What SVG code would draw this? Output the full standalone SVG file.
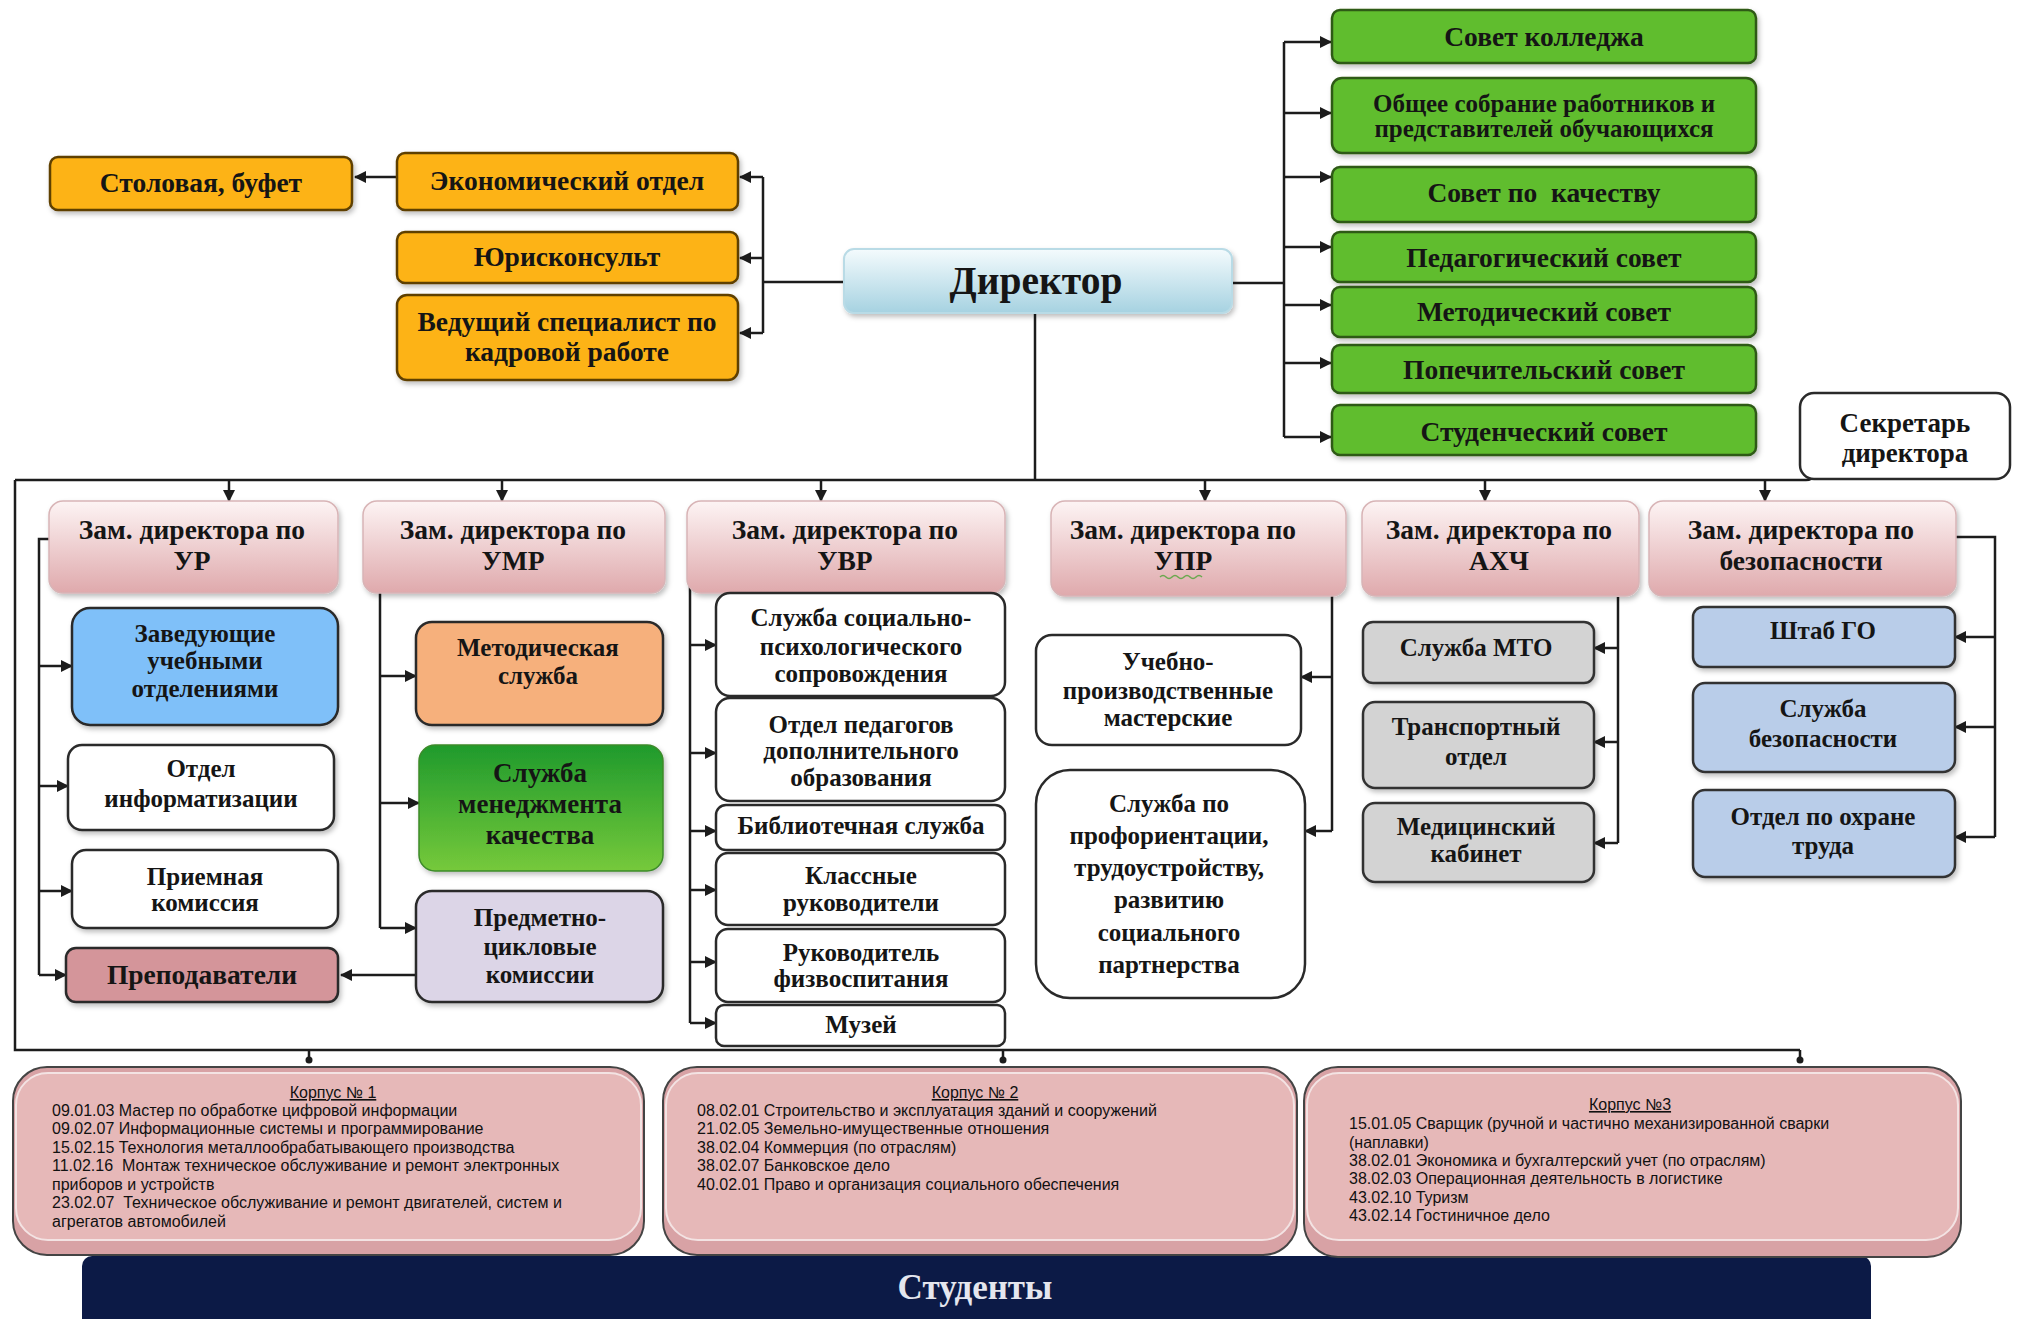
<svg xmlns="http://www.w3.org/2000/svg" width="2020" height="1319" viewBox="0 0 2020 1319">
<defs>
<style>
.t{font-family:"Liberation Serif","Times New Roman",serif;font-weight:bold;font-size:25px;text-anchor:middle;fill:#151515}
.b{font-size:27.5px}
.k{font-family:"Liberation Sans",Arial,sans-serif;font-size:16px;fill:#111}
.ku{font-family:"Liberation Sans",Arial,sans-serif;font-size:16px;fill:#111;text-anchor:middle;text-decoration:underline}
.ln{stroke:#1c1c1c;stroke-width:2.5;fill:none}
.ar{stroke:#1c1c1c;stroke-width:2.5;fill:none;marker-end:url(#ah)}
.or{fill:#fdb313;stroke:#5e3f06;stroke-width:2.5}
.gr{fill:#61bd2e;stroke:#2f5a16;stroke-width:2.5}
.zm{fill:url(#gZam);stroke:#d8b4b6;stroke-width:1.5}
.wh{fill:#ffffff;stroke:#2a2a2a;stroke-width:2.5}
.gy{fill:#d3d3d3;stroke:#333;stroke-width:2.5}
.bl{fill:#b9cde9;stroke:#333;stroke-width:2.5}
.ko{fill:#d8a2a5;stroke:#444;stroke-width:2}
.ki{fill:#e6b8b8;stroke:#f3e3e3;stroke-width:2}
</style>
<linearGradient id="gDir" x1="0" y1="0" x2="0" y2="1"><stop offset="0" stop-color="#f4fbfd"/><stop offset="1" stop-color="#a6d2e1"/></linearGradient>
<linearGradient id="gZam" x1="0" y1="0" x2="0" y2="1"><stop offset="0" stop-color="#fdf4f4"/><stop offset="1" stop-color="#dfa9ac"/></linearGradient>
<linearGradient id="gSmk" x1="0" y1="0" x2="0" y2="1"><stop offset="0" stop-color="#1f9a2c"/><stop offset="1" stop-color="#76c93b"/></linearGradient>
<filter id="sh" x="-5%" y="-10%" width="115%" height="130%"><feDropShadow dx="2" dy="3" stdDeviation="2.5" flood-color="#000" flood-opacity="0.25"/></filter>
<marker id="ah" markerWidth="12" markerHeight="12" refX="11" refY="6" orient="auto" markerUnits="userSpaceOnUse"><path d="M0,0 L12,6 L0,12 z" fill="#1c1c1c"/></marker>
</defs>
<rect width="2020" height="1319" fill="#fff"/>

<g id="connectors">
<path class="ln" d="M844,282 H763 M763,177 V333"/>
<path class="ar" d="M763,177 H740"/>
<path class="ar" d="M763,258 H740"/>
<path class="ar" d="M763,333 H740"/>
<path class="ar" d="M397,177 H355"/>
<path class="ln" d="M1232,283 H1284 M1284,42 V437"/>
<path class="ar" d="M1284,42 H1331"/>
<path class="ar" d="M1284,113 H1331"/>
<path class="ar" d="M1284,177 H1331"/>
<path class="ar" d="M1284,247 H1331"/>
<path class="ar" d="M1284,305 H1331"/>
<path class="ar" d="M1284,363 H1331"/>
<path class="ar" d="M1284,437 H1331"/>
<path class="ln" d="M1035,313 V480"/>
<path class="ln" d="M15,480 H1806 Q1812,480 1814,474"/>
<path class="ln" d="M15,480 V1050 H1800"/>
<path class="ar" d="M229,480 V501"/>
<path class="ar" d="M502,480 V501"/>
<path class="ar" d="M821,480 V501"/>
<path class="ar" d="M1205,480 V501"/>
<path class="ar" d="M1485,480 V501"/>
<path class="ar" d="M1765,480 V501"/>
<path class="ln" d="M49,539 H39 V975"/>
<path class="ar" d="M39,666 H72"/>
<path class="ar" d="M39,786 H68"/>
<path class="ar" d="M39,891 H72"/>
<path class="ar" d="M39,975 H66"/>
<path class="ln" d="M380,593 V928"/>
<path class="ar" d="M380,676 H416"/>
<path class="ar" d="M380,803 H419"/>
<path class="ar" d="M380,928 H416"/>
<path class="ar" d="M416,975 H341"/>
<path class="ln" d="M690,558 V1023"/>
<path class="ar" d="M690,645 H716"/>
<path class="ar" d="M690,753 H716"/>
<path class="ar" d="M690,831 H716"/>
<path class="ar" d="M690,890 H716"/>
<path class="ar" d="M690,962 H716"/>
<path class="ar" d="M690,1023 H716"/>
<path class="ln" d="M1332,596 V831"/>
<path class="ar" d="M1332,677 H1301"/>
<path class="ar" d="M1332,831 H1305"/>
<path class="ln" d="M1618,597 V843"/>
<path class="ar" d="M1618,648 H1594"/>
<path class="ar" d="M1618,742 H1594"/>
<path class="ar" d="M1618,843 H1594"/>
<path class="ln" d="M1955,537 H1995 V837"/>
<path class="ar" d="M1995,637 H1955"/>
<path class="ar" d="M1995,727 H1955"/>
<path class="ar" d="M1995,837 H1955"/>
<path class="ln" d="M309,1050 V1060 M1003,1050 V1060 M1800,1050 V1060"/>
<circle cx="309" cy="1060" r="3.5" fill="#1c1c1c"/>
<circle cx="1003" cy="1060" r="3.5" fill="#1c1c1c"/>
<circle cx="1800" cy="1060" r="3.5" fill="#1c1c1c"/>
<path d="M303,1244 L315,1244 L309,1256 z M977,1242 L989,1242 L983,1256 z M1593,1244 L1605,1244 L1599,1257 z" fill="#1c1c1c"/>
</g>

<g id="stolovaya"><rect class="or" x="50" y="157" width="302" height="53" rx="8" filter="url(#sh)"/><text class="t b" x="201" y="192">Столовая, буфет</text></g>
<g id="econom"><rect class="or" x="397" y="153" width="341" height="57" rx="8" filter="url(#sh)"/><text class="t b" x="567" y="190">Экономический отдел</text></g>
<g id="jurist"><rect class="or" x="397" y="232" width="341" height="51" rx="8" filter="url(#sh)"/><text class="t b" x="567" y="266">Юрисконсульт</text></g>
<g id="kadry"><rect class="or" x="397" y="295" width="341" height="85" rx="10" filter="url(#sh)"/><text class="t b" x="567" y="331">Ведущий специалист по</text><text class="t b" x="567" y="361">кадровой работе</text></g>

<g id="director"><rect x="844" y="249" width="388" height="64" rx="10" fill="url(#gDir)" stroke="#b9dbe6" stroke-width="2" filter="url(#sh)"/><text class="t" x="1036" y="294" style="font-size:39.5px">Директор</text></g>

<g id="sovet-kolledzha"><rect class="gr" x="1332" y="10" width="424" height="53" rx="8" filter="url(#sh)"/><text class="t b" x="1544" y="46">Совет колледжа</text></g>
<g id="obshee"><rect class="gr" x="1332" y="78" width="424" height="75" rx="10" filter="url(#sh)"/><text class="t" x="1544" y="112">Общее собрание работников и</text><text class="t" x="1544" y="137">представителей обучающихся</text></g>
<g id="sovet-kachestvo"><rect class="gr" x="1332" y="167" width="424" height="55" rx="8" filter="url(#sh)"/><text class="t b" x="1544" y="202" style="white-space:pre">Совет по  качеству</text></g>
<g id="pedsovet"><rect class="gr" x="1332" y="232" width="424" height="50" rx="8" filter="url(#sh)"/><text class="t b" x="1544" y="267">Педагогический совет</text></g>
<g id="metodsovet"><rect class="gr" x="1332" y="287" width="424" height="50" rx="8" filter="url(#sh)"/><text class="t b" x="1544" y="321">Методический совет</text></g>
<g id="popech"><rect class="gr" x="1332" y="345" width="424" height="48" rx="8" filter="url(#sh)"/><text class="t b" x="1544" y="379">Попечительский совет</text></g>
<g id="studsovet"><rect class="gr" x="1332" y="405" width="424" height="50" rx="8" filter="url(#sh)"/><text class="t b" x="1544" y="441">Студенческий совет</text></g>

<g id="sekretar"><rect x="1800" y="393" width="210" height="86" rx="14" fill="#fff" stroke="#2a2a2a" stroke-width="2.5"/><text class="t" x="1905" y="432" style="font-size:27px">Секретарь</text><text class="t" x="1905" y="462" style="font-size:27px">директора</text></g>

<g id="zam-ur"><rect class="zm" x="49" y="501" width="289" height="92" rx="14" filter="url(#sh)"/><text class="t b" x="192" y="539">Зам. директора по</text><text class="t b" x="192" y="570">УР</text></g>
<g id="zam-umr"><rect class="zm" x="363" y="501" width="302" height="92" rx="14" filter="url(#sh)"/><text class="t b" x="513" y="539">Зам. директора по</text><text class="t b" x="513" y="570">УМР</text></g>
<g id="zam-uvr"><rect class="zm" x="687" y="501" width="318" height="92" rx="14" filter="url(#sh)"/><text class="t b" x="845" y="539">Зам. директора по</text><text class="t b" x="845" y="570">УВР</text></g>
<g id="zam-upr"><rect class="zm" x="1051" y="501" width="295" height="95" rx="14" filter="url(#sh)"/><text class="t b" x="1183" y="539">Зам. директора по</text><text class="t b" x="1183" y="570">УПР</text><path d="M1160,577 q3,-3 6,0 t6,0 t6,0 t6,0 t6,0 t6,0 t6,0" fill="none" stroke="#6aa84f" stroke-width="1.5"/></g>
<g id="zam-ahch"><rect class="zm" x="1362" y="501" width="277" height="95" rx="14" filter="url(#sh)"/><text class="t b" x="1499" y="539">Зам. директора по</text><text class="t b" x="1499" y="570">АХЧ</text></g>
<g id="zam-bez"><rect class="zm" x="1649" y="501" width="307" height="95" rx="14" filter="url(#sh)"/><text class="t b" x="1801" y="539">Зам. директора по</text><text class="t b" x="1801" y="570">безопасности</text></g>

<g id="zaveduyushie"><rect x="72" y="608" width="266" height="117" rx="18" fill="#7fc0f9" stroke="#2a2a2a" stroke-width="2.5" filter="url(#sh)"/><text class="t" x="205" y="642">Заведующие</text><text class="t" x="205" y="669">учебными</text><text class="t" x="205" y="697">отделениями</text></g>
<g id="inform"><rect class="wh" x="68" y="745" width="266" height="85" rx="14" filter="url(#sh)"/><text class="t" x="201" y="777">Отдел</text><text class="t" x="201" y="807">информатизации</text></g>
<g id="priem"><rect class="wh" x="72" y="850" width="266" height="78" rx="14" filter="url(#sh)"/><text class="t" x="205" y="885">Приемная</text><text class="t" x="205" y="911">комиссия</text></g>
<g id="prepod"><rect x="66" y="948" width="272" height="54" rx="10" fill="#d4959a" stroke="#2a2a2a" stroke-width="2.5" filter="url(#sh)"/><text class="t b" x="202" y="984">Преподаватели</text></g>

<g id="metod-sluzhba"><rect x="416" y="622" width="247" height="103" rx="16" fill="#f6b07b" stroke="#2a2a2a" stroke-width="2.5" filter="url(#sh)"/><text class="t" x="538" y="656">Методическая</text><text class="t" x="538" y="684">служба</text></g>
<g id="smk"><rect x="419" y="745" width="244" height="126" rx="16" fill="url(#gSmk)" stroke="#3c8a2a" stroke-width="1.5" filter="url(#sh)"/><text class="t" x="540" y="782" style="font-size:27px">Служба</text><text class="t" x="540" y="813" style="font-size:27px">менеджмента</text><text class="t" x="540" y="844" style="font-size:27px">качества</text></g>
<g id="pck"><rect x="416" y="891" width="247" height="111" rx="16" fill="#dcd5e7" stroke="#2a2a2a" stroke-width="2.5" filter="url(#sh)"/><text class="t" x="540" y="926">Предметно-</text><text class="t" x="540" y="955">цикловые</text><text class="t" x="540" y="983">комиссии</text></g>

<g id="spps"><rect class="wh" x="716" y="593" width="289" height="103" rx="14"/><text class="t" x="861" y="626">Служба социально-</text><text class="t" x="861" y="655">психологического</text><text class="t" x="861" y="682">сопровождения</text></g>
<g id="pdo"><rect class="wh" x="716" y="698" width="289" height="103" rx="14"/><text class="t" x="861" y="733">Отдел педагогов</text><text class="t" x="861" y="759">дополнительного</text><text class="t" x="861" y="786">образования</text></g>
<g id="biblio"><rect class="wh" x="716" y="805" width="289" height="45" rx="10"/><text class="t" x="861" y="834">Библиотечная служба</text></g>
<g id="klass"><rect class="wh" x="716" y="853" width="289" height="72" rx="12"/><text class="t" x="861" y="884">Классные</text><text class="t" x="861" y="911">руководители</text></g>
<g id="fizvos"><rect class="wh" x="716" y="929" width="289" height="73" rx="12"/><text class="t" x="861" y="961">Руководитель</text><text class="t" x="861" y="987">физвоспитания</text></g>
<g id="muzey"><rect class="wh" x="716" y="1005" width="289" height="41" rx="8"/><text class="t" x="861" y="1033">Музей</text></g>

<g id="masterskie"><rect class="wh" x="1036" y="635" width="265" height="110" rx="16"/><text class="t" x="1168" y="670">Учебно-</text><text class="t" x="1168" y="699">производственные</text><text class="t" x="1168" y="726">мастерские</text></g>
<g id="proforient"><rect class="wh" x="1036" y="770" width="269" height="228" rx="34"/><text class="t" x="1169" y="812">Служба по</text><text class="t" x="1169" y="844">профориентации,</text><text class="t" x="1169" y="876">трудоустройству,</text><text class="t" x="1169" y="908">развитию</text><text class="t" x="1169" y="941">социального</text><text class="t" x="1169" y="973">партнерства</text></g>

<g id="mto"><rect class="gy" x="1363" y="622" width="231" height="61" rx="10" filter="url(#sh)"/><text class="t" x="1476" y="656">Служба МТО</text></g>
<g id="transport"><rect class="gy" x="1363" y="702" width="231" height="86" rx="12" filter="url(#sh)"/><text class="t" x="1476" y="735">Транспортный</text><text class="t" x="1476" y="765">отдел</text></g>
<g id="medkab"><rect class="gy" x="1363" y="803" width="231" height="79" rx="12" filter="url(#sh)"/><text class="t" x="1476" y="835">Медицинский</text><text class="t" x="1476" y="862">кабинет</text></g>

<g id="shtab-go"><rect class="bl" x="1693" y="607" width="262" height="60" rx="10" filter="url(#sh)"/><text class="t" x="1823" y="639">Штаб ГО</text></g>
<g id="sluzhba-bez"><rect class="bl" x="1693" y="683" width="262" height="89" rx="12" filter="url(#sh)"/><text class="t" x="1823" y="717">Служба</text><text class="t" x="1823" y="747">безопасности</text></g>
<g id="ohrana-truda"><rect class="bl" x="1693" y="790" width="262" height="87" rx="12" filter="url(#sh)"/><text class="t" x="1823" y="825">Отдел по охране</text><text class="t" x="1823" y="854">труда</text></g>

<g id="studenty"><rect x="82" y="1256" width="1789" height="80" rx="10" fill="#0c1a46"/><text class="t" x="975" y="1299" style="font-size:35px;fill:#e4e6ee">Студенты</text></g>

<g id="korpus1"><rect class="ko" x="13" y="1067" width="631" height="188" rx="34"/><rect class="ki" x="16" y="1073" width="625" height="167" rx="32"/>
<text class="ku" x="333" y="1098">Корпус № 1</text>
<text class="k" x="52" y="1116">09.01.03 Мастер по обработке цифровой информации</text>
<text class="k" x="52" y="1134">09.02.07 Информационные системы и программирование</text>
<text class="k" x="52" y="1153">15.02.15 Технология металлообрабатывающего производства</text>
<text class="k" x="52" y="1171" style="white-space:pre">11.02.16  Монтаж техническое обслуживание и ремонт электронных</text>
<text class="k" x="52" y="1190">приборов и устройств</text>
<text class="k" x="52" y="1208" style="white-space:pre">23.02.07  Техническое обслуживание и ремонт двигателей, систем и</text>
<text class="k" x="52" y="1227">агрегатов автомобилей</text></g>

<g id="korpus2"><rect class="ko" x="663" y="1067" width="634" height="188" rx="34"/><rect class="ki" x="666" y="1073" width="628" height="167" rx="32"/>
<text class="ku" x="975" y="1098">Корпус № 2</text>
<text class="k" x="697" y="1116">08.02.01 Строительство и эксплуатация зданий и сооружений</text>
<text class="k" x="697" y="1134">21.02.05 Земельно-имущественные отношения</text>
<text class="k" x="697" y="1153">38.02.04 Коммерция (по отраслям)</text>
<text class="k" x="697" y="1171">38.02.07 Банковское дело</text>
<text class="k" x="697" y="1190">40.02.01 Право и организация социального обеспечения</text></g>

<g id="korpus3"><rect class="ko" x="1304" y="1067" width="657" height="190" rx="34"/><rect class="ki" x="1307" y="1073" width="651" height="167" rx="32"/>
<text class="ku" x="1630" y="1110">Корпус №3</text>
<text class="k" x="1349" y="1129">15.01.05 Сварщик (ручной и частично механизированной сварки</text>
<text class="k" x="1349" y="1148">(наплавки)</text>
<text class="k" x="1349" y="1166">38.02.01 Экономика и бухгалтерский учет (по отраслям)</text>
<text class="k" x="1349" y="1184">38.02.03 Операционная деятельность в логистике</text>
<text class="k" x="1349" y="1203">43.02.10 Туризм</text>
<text class="k" x="1349" y="1221">43.02.14 Гостиничное дело</text></g>
</svg>
